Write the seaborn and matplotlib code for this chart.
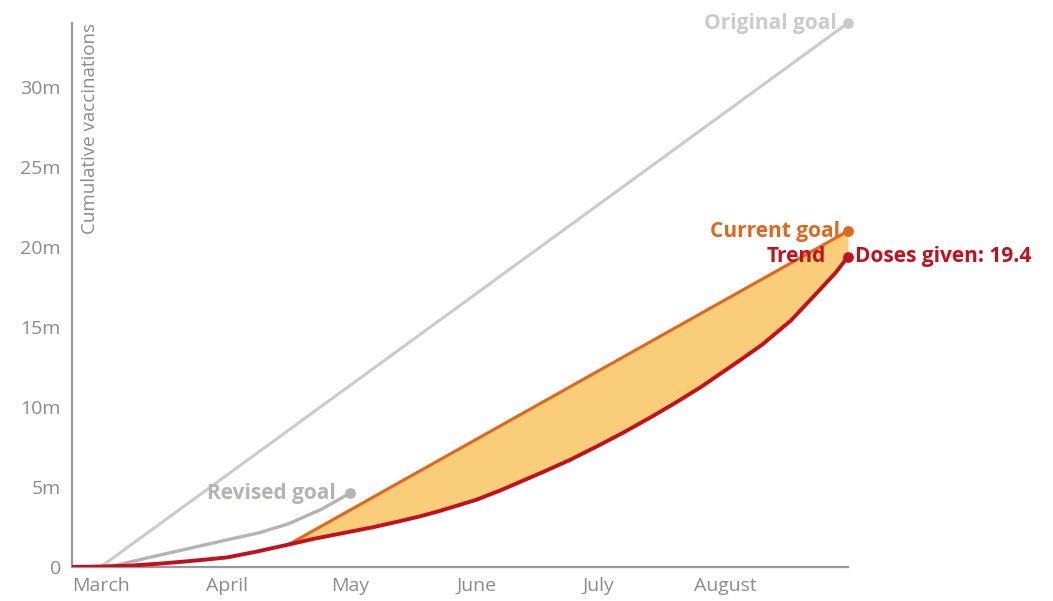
import numpy as np
import pandas as pd
import matplotlib
matplotlib.use("Agg")
import matplotlib.pyplot as plt
import matplotlib.dates as mdates
import seaborn as sns

# --- data (millions of doses, 2021) ---
original_dates = ["2021-02-22", "2021-03-01", "2021-08-31"]
original_goal = [0.0, 0.0, 34.0]

revised_dates = ["2021-02-22", "2021-03-03", "2021-03-13", "2021-04-01", "2021-04-09", "2021-04-16",
                 "2021-04-24", "2021-05-01"]
revised_goal = [0.0, 0.0, 0.6, 1.7, 2.15, 2.7, 3.6, 4.6]

current_dates = ["2021-04-16", "2021-08-31"]
current_goal = [1.4, 21.0]

dose_dates = ["2021-02-22", "2021-03-01", "2021-03-08", "2021-03-15", "2021-03-22", "2021-03-29",
              "2021-04-01", "2021-04-08", "2021-04-16", "2021-04-22", "2021-05-01", "2021-05-07",
              "2021-05-13", "2021-05-18", "2021-05-23", "2021-06-01", "2021-06-07", "2021-06-12",
              "2021-06-17", "2021-06-24", "2021-07-01", "2021-07-07", "2021-07-14", "2021-07-20",
              "2021-07-26", "2021-08-01", "2021-08-05", "2021-08-10", "2021-08-17", "2021-08-24",
              "2021-08-28", "2021-08-31"]
doses_given = [0.0, 0.03, 0.08, 0.2, 0.35, 0.52,
               0.6, 0.95, 1.4, 1.75, 2.2, 2.5,
               2.85, 3.15, 3.5, 4.2, 4.8, 5.35,
               5.9, 6.7, 7.6, 8.4, 9.4, 10.3,
               11.25, 12.3, 13.0, 13.9, 15.4, 17.3,
               18.4, 19.4]

month_ticks = ["2021-03-01", "2021-04-01", "2021-05-01", "2021-06-01", "2021-07-01", "2021-08-01", "2021-08-31"]
month_labels = ["March", "April", "May", "June", "July", "August", ""]
y_ticks = [0, 5, 10, 15, 20, 25, 30]
y_labels = ["0", "5m", "10m", "15m", "20m", "25m", "30m"]

# --- frames ---
orig = pd.DataFrame({"date": pd.to_datetime(original_dates), "value": original_goal})
rev = pd.DataFrame({"date": pd.to_datetime(revised_dates), "value": revised_goal})
cur = pd.DataFrame({"date": pd.to_datetime(current_dates), "value": current_goal})
doses = pd.DataFrame({"date": pd.to_datetime(dose_dates), "value": doses_given})

sns.set_theme(style="white")
plt.rcParams["font.family"] = ["Open Sans", "DejaVu Sans"]

GREY_LIGHT = "#cbcbcb"
GREY_MID = "#b3b3b8"
ORANGE = "#e2661b"
RED = "#c4101c"
FILL = "#f9cd7a"
AXIS = "#9a9a9a"
TICK_TXT = "#8c8c8c"

fig = plt.figure(figsize=(10.53, 6.01), dpi=100)
ax = fig.add_axes([0.0684, 0.0566, 0.7369, 0.9051])

# shaded gap between the current goal and doses actually given
gap = doses[doses["date"] >= cur["date"].iloc[0]]
goal_at = np.interp(mdates.date2num(gap["date"]), mdates.date2num(cur["date"]), cur["value"])
ax.fill_between(gap["date"], gap["value"], goal_at, color=FILL, lw=0, zorder=1)

sns.lineplot(data=orig, x="date", y="value", ax=ax, color=GREY_LIGHT, lw=2.2, zorder=2)
sns.lineplot(data=rev, x="date", y="value", ax=ax, color=GREY_MID, lw=2.4, zorder=2)
sns.lineplot(data=cur, x="date", y="value", ax=ax, color=ORANGE, lw=2.2, zorder=3)
sns.lineplot(data=doses, x="date", y="value", ax=ax, color=RED, lw=2.8, zorder=4)

# end-point dots
for df, c in [(orig, GREY_LIGHT), (rev, GREY_MID), (cur, ORANGE), (doses, RED)]:
    ax.scatter(df["date"].iloc[-1], df["value"].iloc[-1], s=60, color=c, zorder=5, lw=0, clip_on=False)

lab_kw = dict(textcoords="offset points", va="center", fontsize=15, fontweight="bold", zorder=6)

ax.annotate("Original goal", (orig["date"].iloc[-1], orig["value"].iloc[-1]), xytext=(-8, 0),
            ha="right", color=GREY_LIGHT, **lab_kw)
ax.annotate("Revised goal", (rev["date"].iloc[-1], rev["value"].iloc[-1]), xytext=(-10, 0),
            ha="right", color=GREY_MID, **lab_kw)
ax.annotate("Current goal", (cur["date"].iloc[-1], cur["value"].iloc[-1]), xytext=(-6, 0),
            ha="right", color=ORANGE, **lab_kw)
ax.annotate("Trend", (doses["date"].iloc[-1], doses["value"].iloc[-1]), xytext=(-16, 0),
            ha="right", color=RED, **lab_kw)
ax.annotate(f"Doses given: {doses['value'].iloc[-1]}", (doses["date"].iloc[-1], doses["value"].iloc[-1]),
            xytext=(5, 0), ha="left", color=RED, annotation_clip=False, **lab_kw)

# axes styling
ax.set_xlim(pd.Timestamp("2021-02-22"), pd.Timestamp("2021-08-31"))
ax.set_ylim(0, 34)
ax.set_xticks(pd.to_datetime(month_ticks))
ax.set_xticklabels(month_labels)
ax.set_yticks(y_ticks)
ax.set_yticklabels(y_labels)
ax.set_xlabel("")
ax.set_ylabel("")

for side in ["top", "right"]:
    ax.spines[side].set_visible(False)
for side in ["left", "bottom"]:
    ax.spines[side].set_color(AXIS)
    ax.spines[side].set_linewidth(1.6)

ax.tick_params(axis="both", which="both", colors=AXIS, labelcolor=TICK_TXT, labelsize=14,
               length=6, width=1.4, direction="out")
ax.tick_params(axis="y", pad=2)
ax.tick_params(axis="x", pad=1)

ax.text(0.011, 1.0, "Cumulative vaccinations", transform=ax.transAxes, rotation=90,
        ha="left", va="top", fontsize=13.5, color=TICK_TXT)

fig.savefig("out.png", dpi=100)
